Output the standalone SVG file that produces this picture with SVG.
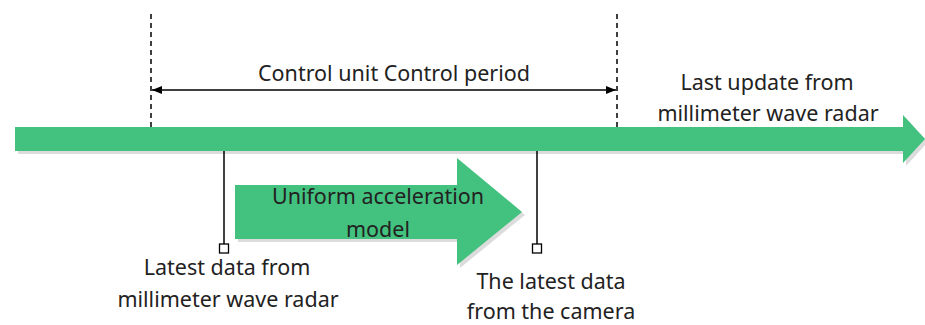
<svg xmlns="http://www.w3.org/2000/svg" width="925" height="325" viewBox="0 0 925 325">
  <style>
    .lbl { font-family: "Noto Sans", "Open Sans", sans-serif; font-size: 21.5px; fill: #222; text-anchor: middle; }
    .green { fill: #43c17f; }
    .shadow { fill: #dcdcdc; }
    .dash { stroke: #000; stroke-width: 1.5; stroke-dasharray: 5 4; fill: none; }
    .tick { stroke: #000; stroke-width: 1.5; fill: none; }
    .box { stroke: #000; stroke-width: 1.3; fill: #fff; }
  </style>
  <defs>
    <marker id="ah" viewBox="0 0 10 10" refX="10" refY="5" markerWidth="10" markerHeight="10" orient="auto-start-reverse" markerUnits="userSpaceOnUse">
      <path d="M0,1 L10,5 L0,9 z" fill="#000"/>
    </marker>
  </defs>

  <!-- time axis -->
  <g id="timeline">
    <path class="shadow" d="M18,130 H906 V118 L928,142 L906,166 V154 H18 z"/>
    <path class="green" d="M15,127 H903 V115 L925,139 L903,163 V151 H15 z"/>
  </g>

  <!-- model arrow -->
  <g id="model">
    <path class="shadow" d="M238,188 H460 V161 L525,215 L460,268 V242 H238 z"/>
    <path class="green" d="M235,185 H457 V158 L522,212 L457,265 V239 H235 z"/>
    <text class="lbl" x="378" y="204">Uniform acceleration</text>
    <text class="lbl" x="378" y="237">model</text>
  </g>

  <g id="connectors">
    <line class="dash" x1="151" y1="14" x2="151" y2="127"/>
    <line class="dash" x1="617" y1="14" x2="617" y2="127"/>
    <line class="tick" x1="152" y1="90" x2="616" y2="90" marker-start="url(#ah)" marker-end="url(#ah)"/>
    <line class="tick" x1="224" y1="151" x2="224" y2="244"/>
    <line class="tick" x1="537" y1="151" x2="537" y2="244"/>
  </g>

  <g id="period">
    <text class="lbl" x="394" y="81">Control unit Control period</text>
  </g>

  <g id="radar-last">
    <text class="lbl" x="767" y="90">Last update from</text>
    <text class="lbl" x="768" y="121">millimeter wave radar</text>
  </g>

  <g id="radar-latest">
    <rect class="box" x="219.5" y="244" width="9" height="9"/>
    <text class="lbl" x="227" y="275">Latest data from</text>
    <text class="lbl" x="228" y="307">millimeter wave radar</text>
  </g>

  <g id="camera-latest">
    <rect class="box" x="532.5" y="244" width="9" height="9"/>
    <text class="lbl" x="551" y="289">The latest data</text>
    <text class="lbl" x="551" y="319">from the camera</text>
  </g>
</svg>
